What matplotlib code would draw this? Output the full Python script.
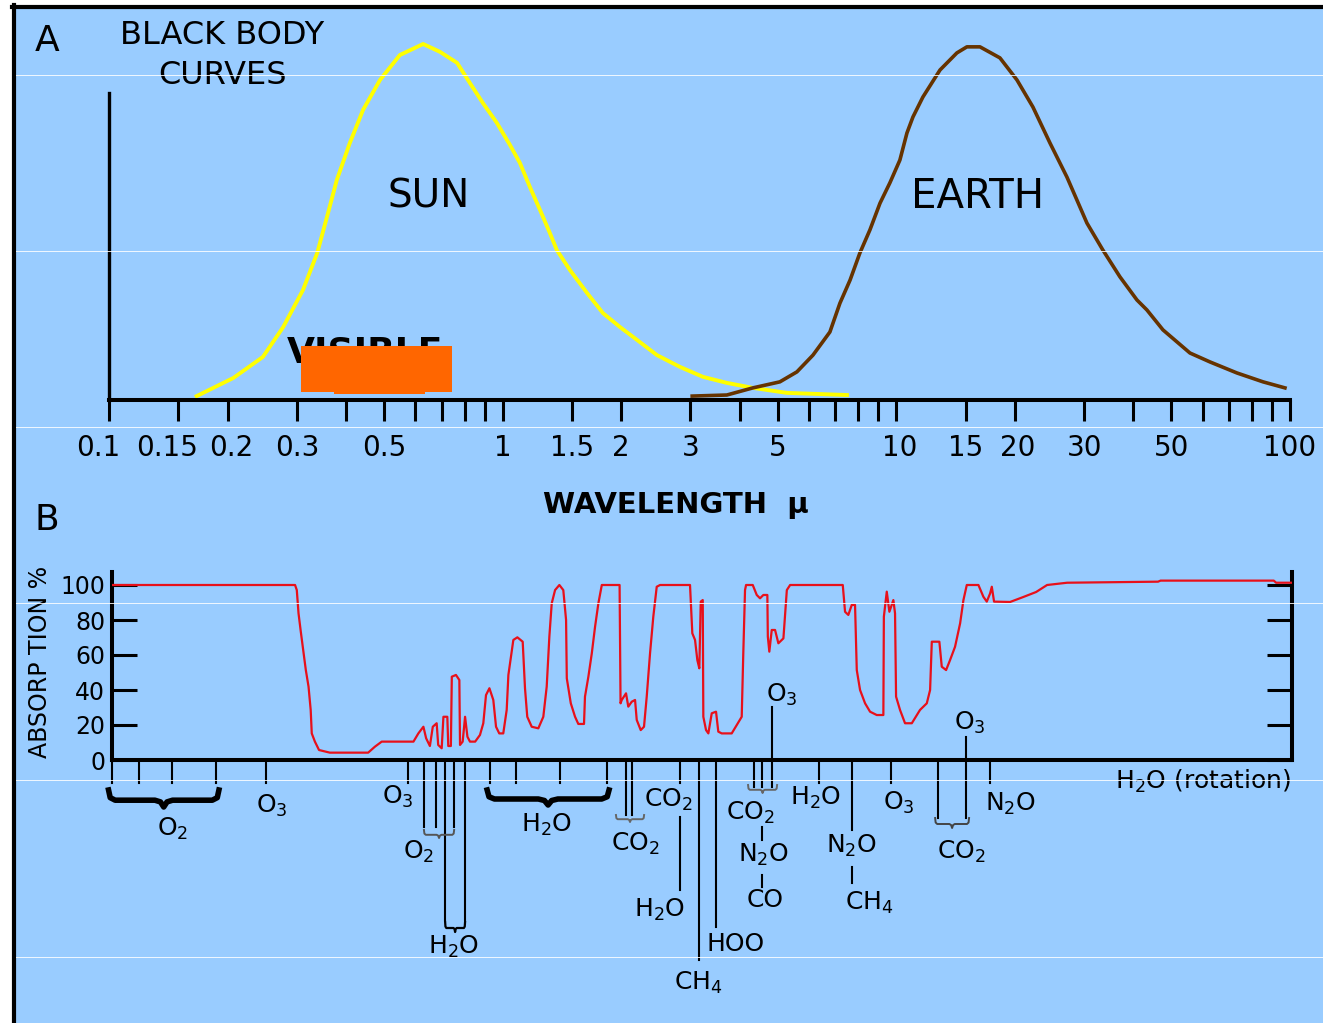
import matplotlib
matplotlib.use("Agg")
import matplotlib.pyplot as plt
import numpy as np
from matplotlib.ticker import NullLocator
from matplotlib.patches import Rectangle
from matplotlib.lines import Line2D

plt.rcParams['font.family'] = ['DejaVu Sans']
plt.rcParams['mathtext.default'] = 'regular'

BG = '#99CCFF'
W, H = 1323, 1023

# ---- panel A: black body curves (wavelength in micron, relative intensity)
sun_wl = [0.167, 0.207, 0.246, 0.277, 0.311, 0.338, 0.360, 0.379, 0.409, 0.442,
          0.488, 0.548, 0.628, 0.693, 0.766, 0.826, 0.891, 0.967, 1.044, 1.106,
          1.173, 1.244, 1.318, 1.373, 1.482, 1.637, 1.798, 1.986, 2.193, 2.466,
          2.820, 3.227, 3.713, 4.324, 5.275, 7.49]
sun_int = [0.011, 0.062, 0.121, 0.205, 0.309, 0.413, 0.525, 0.618, 0.722, 0.815,
           0.899, 0.969, 1.0, 0.978, 0.947, 0.890, 0.834, 0.778, 0.716, 0.666,
           0.598, 0.534, 0.469, 0.421, 0.365, 0.301, 0.244, 0.205, 0.169, 0.126,
           0.093, 0.065, 0.048, 0.034, 0.020, 0.014]

earth_wl = [3.03, 3.71, 4.32, 5.06, 5.59, 6.14, 6.78, 7.19, 7.63, 8.08,
            8.57, 9.09, 9.63, 10.21, 10.64, 11.02, 11.68, 12.91, 14.25, 15.11,
            16.31, 18.33, 20.25, 22.23, 24.56, 27.13, 30.49, 33.48, 36.98, 40.85,
            43.3, 47.56, 55.7, 62.6, 73.3, 85.4, 97.1]
earth_int = [0.011, 0.014, 0.034, 0.051, 0.079, 0.126, 0.191, 0.272, 0.337, 0.413,
             0.478, 0.553, 0.610, 0.674, 0.750, 0.795, 0.851, 0.927, 0.975, 0.992,
             0.992, 0.961, 0.899, 0.823, 0.722, 0.626, 0.497, 0.421, 0.346, 0.281,
             0.253, 0.197, 0.132, 0.107, 0.076, 0.051, 0.034]

tick_wl = [0.1, 0.15, 0.2, 0.3, 0.4, 0.5, 0.6, 0.7, 0.8, 0.9, 1, 1.5, 2,
           3, 4, 5, 6, 7, 8, 9, 10, 15, 20, 30, 40, 50, 60, 70, 80, 90, 100]
label_wl = [0.1, 0.15, 0.2, 0.3, 0.5, 1, 1.5, 2, 3, 5, 10, 15, 20, 30, 50, 100]
label_txt = ['0.1', '0.15', '0.2', '0.3', '0.5', '1', '1.5', '2', '3', '5',
             '10', '15', '20', '30', '50', '100']
label_dx = [-11, -11, 4, 0, 0, 0, 0, 0, 0, 0, 3, 0, 3, 0, 0, 0]

visible_band = (0.307, 0.743)

# ---- panel B: atmospheric absorption (%)
abs_wl = [0.100, 0.292, 0.295, 0.298, 0.302, 0.307, 0.311, 0.316, 0.320, 0.322,
          0.328, 0.336, 0.358, 0.448, 0.466, 0.485, 0.584, 0.601, 0.619, 0.629,
          0.643, 0.654, 0.669, 0.675, 0.689, 0.696, 0.712, 0.716, 0.727, 0.731,
          0.749, 0.764, 0.767, 0.779, 0.790, 0.801, 0.813, 0.838, 0.862, 0.879,
          0.893, 0.911, 0.932, 0.947, 0.965, 0.988, 1.008, 1.018, 1.032, 1.048,
          1.073, 1.107, 1.122, 1.137, 1.167, 1.213, 1.249, 1.274, 1.294, 1.312,
          1.338, 1.372, 1.404, 1.427, 1.433, 1.467, 1.504, 1.533, 1.585, 1.594,
          1.626, 1.659, 1.691, 1.724, 1.759, 1.952, 1.963, 1.977, 2.027, 2.054,
          2.096, 2.137, 2.158, 2.209, 2.252, 2.288, 2.333, 2.378, 2.426, 2.474,
          2.948, 2.988, 3.036, 3.077, 3.113, 3.139, 3.176, 3.187, 3.238, 3.282,
          3.348, 3.433, 3.479, 3.549, 3.763, 3.875, 3.990, 4.027, 4.068, 4.093,
          4.256, 4.357, 4.442, 4.529, 4.636, 4.649, 4.690, 4.757, 4.850, 4.945,
          5.093, 5.196, 5.297, 7.209, 7.306, 7.448, 7.598, 7.746, 7.825, 7.977,
          8.214, 8.458, 8.796, 9.143, 9.170, 9.327, 9.471, 9.694, 9.790, 9.849,
          10.08, 10.38, 10.80, 11.33, 11.79, 12.02, 12.14, 12.69, 12.87, 13.20,
          13.51, 13.91, 14.33, 14.61, 14.90, 15.95, 16.42, 16.75, 17.08, 17.25,
          17.48, 19.20, 20.72, 22.36, 23.84, 26.81, 45.65, 46.33, 89.88, 91.11, 100]
abs_pct = [100, 100, 97.1, 83.8, 73.3, 61.0, 51.4, 41.9, 28.6, 15.2,
           10.5, 5.7, 4.2, 4.2, 7.6, 10.5, 10.5, 15.2, 19.0, 12.4,
           8.0, 19.0, 21.0, 8.6, 6.7, 24.7, 24.7, 8.0, 8.0, 47.6,
           48.6, 45.7, 8.6, 10.5, 24.7, 13.3, 10.5, 10.5, 14.3, 21.0,
           37.1, 41.0, 34.3, 19.0, 15.2, 15.2, 28.6, 48.6, 58.1, 68.6,
           70.1, 67.6, 41.0, 24.7, 19.0, 18.1, 24.7, 41.9, 70.5, 89.5,
           97.1, 100, 97.1, 80.0, 46.7, 32.4, 24.7, 20.6, 20.6, 36.2,
           47.6, 61.0, 76.2, 89.5, 100, 100, 32.4, 34.3, 38.1, 30.5,
           33.3, 34.3, 22.9, 17.1, 19.0, 36.2, 61.0, 81.9, 99.0, 100,
           100, 72.4, 68.6, 57.1, 52.4, 90.5, 91.4, 24.7, 17.1, 15.2,
           26.7, 27.6, 16.2, 15.2, 15.2, 20.0, 24.7, 61.0, 97.1, 100,
           100, 94.3, 92.4, 94.3, 94.3, 70.5, 61.9, 74.3, 74.3, 66.7,
           69.5, 97.1, 100, 100, 84.7, 82.9, 88.6, 88.6, 51.4, 40.0,
           32.4, 27.6, 25.7, 25.7, 81.9, 96.2, 84.7, 91.4, 83.8, 36.2,
           28.6, 21.0, 21.0, 28.6, 32.4, 40.0, 67.6, 67.6, 53.3, 51.4,
           57.1, 64.7, 78.1, 91.4, 100, 100, 93.3, 90.5, 95.2, 99.0,
           90.5, 90.3, 93.1, 96.0, 100, 101.3, 101.9, 102.5, 102.5, 101.3, 101.3]

pct_ticks = [0, 20, 40, 60, 80, 100]

# absorber band markers: wavelength, line start / end (pixel rows below the axis)
band_lines = [(0.100, 760, 783), (0.117, 760, 783), (0.142, 760, 783), (0.184, 760, 783),
              (0.246, 760, 783), (0.566, 760, 783), (0.621, 760, 827), (0.667, 760, 827),
              (0.703, 760, 920), (0.741, 760, 827), (0.790, 760, 920), (0.914, 760, 783),
              (1.065, 760, 783), (1.378, 760, 783), (1.814, 760, 783), (2.027, 760, 815),
              (2.099, 760, 815), (2.781, 760, 783), (2.781, 817, 890), (3.108, 760, 960),
              (3.434, 760, 927), (4.289, 760, 787), (4.495, 760, 787), (4.495, 827, 840),
              (4.495, 875, 887), (4.765, 707, 787), (6.277, 760, 783), (7.612, 760, 830),
              (7.612, 867, 883), (9.566, 760, 783), (12.60, 760, 818), (14.84, 737, 818),
              (17.08, 760, 783)]

band_labels = [("O$_2$", 0.1364, 8, 829), ("O$_3$", 0.2464, 6, 806),
               ("O$_3$", 0.5657, -10, 797), ("O$_2$", 0.678, -20, 852),
               ("H$_2$O", 0.745, -1, 947), ("H$_2$O", 1.269, 1, 825),
               ("CO$_2$", 2.063, 6, 844), ("CO$_2$", 2.781, -12, 800),
               ("H$_2$O", 2.781, -20, 910), ("CH$_4$", 3.108, -1, 983),
               ("HOO", 3.434, 19, 944), ("CO$_2$", 4.495, -12, 813),
               ("N$_2$O", 4.495, 1, 855), ("CO", 4.495, 3, 900),
               ("H$_2$O", 6.277, -4, 798), ("N$_2$O", 7.612, -1, 846),
               ("CH$_4$", 7.612, 17, 903), ("O$_3$", 9.566, 8, 803),
               ("CO$_2$", 13.67, 9, 852), ("N$_2$O", 17.08, 20, 804),
               ("O$_3$", 4.765, 10, 695), ("O$_3$", 14.84, 4, 723)]

braces = [(0.098, 0.187, 790, 17, 4.0, 'black'),
          (0.899, 1.835, 790, 15, 4.0, 'black'),
          (0.621, 0.741, 830, 8, 1.4, '#555555'),
          (0.703, 0.790, 922, 10, 1.6, 'black'),
          (1.911, 2.253, 815, 7, 1.4, '#666666'),
          (4.141, 4.908, 785, 8, 1.4, '#666666'),
          (12.38, 15.10, 818, 10, 1.4, '#444444')]


def fx(px):
    return px / W


def fy(py):
    return 1 - py / H


def by(py):
    # pixel row -> absorption units of panel B
    return (760 - py) / 1.75


def brace(ax, x0, x1, py, h, lw, color):
    ts = np.array([0, 0.015, 0.06, 0.42, 0.47, 0.5, 0.53, 0.58, 0.94, 0.985, 1])
    ys = np.array([0, 0.45, 0.6, 0.6, 0.7, 1.0, 0.7, 0.6, 0.6, 0.45, 0])
    u0, u1 = np.log10(x0), np.log10(x1)
    xs = 10 ** (u0 + ts * (u1 - u0))
    ax.plot(xs, by(py + ys * h), color=color, lw=lw, clip_on=False,
            solid_joinstyle='round')


fig = plt.figure(figsize=(W / 100, H / 100), dpi=100)
fig.patch.set_facecolor('white')
fig.add_artist(Rectangle((fx(12), 0), 1, fy(5), transform=fig.transFigure,
                         facecolor=BG, edgecolor='none', zorder=0))
fig.add_artist(Line2D([fx(12), 1], [fy(7), fy(7)], color='black', lw=3,
                      transform=fig.transFigure))
fig.add_artist(Line2D([fx(14), fx(14)], [0, fy(5)], color='black', lw=3,
                      transform=fig.transFigure))

# ---------------- panel A ----------------
axA = fig.add_axes([fx(109), fy(400), 1181 / W, 356 / H])
axA.set_xscale('log')
axA.set_xlim(0.1, 100)
axA.set_ylim(0, 1)
axA.patch.set_visible(False)
axA.plot(sun_wl, sun_int, color='#FFFF00', lw=2.8, clip_on=False)
axA.plot(earth_wl, earth_int, color='#663300', lw=2.6, clip_on=False)
axA.spines['top'].set_visible(False)
axA.spines['right'].set_visible(False)
axA.spines['left'].set_bounds(0, 0.862)
axA.spines['left'].set_linewidth(2.4)
axA.spines['bottom'].set_linewidth(2.9)
axA.set_xticks(tick_wl, labels=[''] * len(tick_wl))
axA.xaxis.set_minor_locator(NullLocator())
axA.tick_params(axis='x', direction='out', length=15, width=2.2, color='black')
axA.set_yticks([])
for v, t, dx in zip(label_wl, label_txt, label_dx):
    axA.annotate(t, xy=(v, 0), xycoords=('data', 'axes fraction'),
                 xytext=(dx, -48), textcoords='offset pixels',
                 ha='center', va='center', fontsize=20)

axA.text(0.283, 0.104, 'VISIBLE', fontsize=26, fontweight='bold', ha='left',
         va='baseline', zorder=3)
axA.add_patch(Rectangle((visible_band[0], 0.0225), visible_band[1] - visible_band[0],
                        0.13, facecolor='#FF6600', edgecolor='none', zorder=4))
axA.add_patch(Rectangle((0.3725, 0.017), 0.634 - 0.3725, 0.01,
                        facecolor='#FF6600', edgecolor='none', zorder=4))

fig.text(fx(47), fy(41), 'A', fontsize=26, ha='center', va='center')
fig.text(fx(222), fy(35), 'BLACK BODY', fontsize=23, ha='center', va='center')
fig.text(fx(222), fy(75), 'CURVES', fontsize=23, ha='center', va='center')
fig.text(fx(429), fy(197), 'SUN', fontsize=28, ha='center', va='center')
fig.text(fx(978), fy(197), 'EARTH', fontsize=29, ha='center', va='center')
fig.text(fx(676), fy(505), 'WAVELENGTH  \u03bc', fontsize=21, fontweight='bold',
         ha='center', va='center')

# ---------------- panel B ----------------
axB = fig.add_axes([fx(112), fy(760), 1180 / W, 188 / H])
axB.set_xscale('log')
axB.set_xlim(0.1, 100)
axB.set_ylim(0, 188 / 1.75)
axB.patch.set_visible(False)
axB.plot(abs_wl, abs_pct, color='#E8101A', lw=1.6, zorder=3)
axB.spines['top'].set_visible(False)
for s in ['left', 'right', 'bottom']:
    axB.spines[s].set_linewidth(2.9)
axB.set_xticks([])
axB.xaxis.set_minor_locator(NullLocator())
axB.set_yticks(pct_ticks, labels=[str(v) for v in pct_ticks])
axB.tick_params(axis='y', direction='in', length=18, width=2.2, left=True,
                right=True, labelsize=17, pad=5)

for wl, p0, p1 in band_lines:
    axB.plot([wl, wl], [by(p0), by(p1)], color='black', lw=1.5, clip_on=False)
for x0, x1, py, h, lw, c in braces:
    brace(axB, x0, x1, py, h, lw, c)
for t, wl, dx, py in band_labels:
    axB.annotate(t, xy=(wl, by(py)), xytext=(dx, 0), textcoords='offset pixels',
                 ha='center', va='center', fontsize=18, annotation_clip=False)
axB.annotate('H$_2$O (rotation)', xy=(100, by(781)), xytext=(-1, 0),
             textcoords='offset pixels', ha='right', va='center', fontsize=18,
             annotation_clip=False)

fig.text(fx(47), fy(520), 'B', fontsize=26, ha='center', va='center')
fig.text(fx(40), fy(662), 'ABSORP TION %', fontsize=17, rotation=90,
         ha='center', va='center')

# faint scan lines of the original image
for y in [75, 251, 427, 603, 780, 957]:
    fig.add_artist(Line2D([fx(16), 1], [fy(y), fy(y)], color='white', lw=0.7,
                          alpha=0.85, transform=fig.transFigure, zorder=10))

fig.savefig('out.png', dpi=100, facecolor=fig.get_facecolor())
